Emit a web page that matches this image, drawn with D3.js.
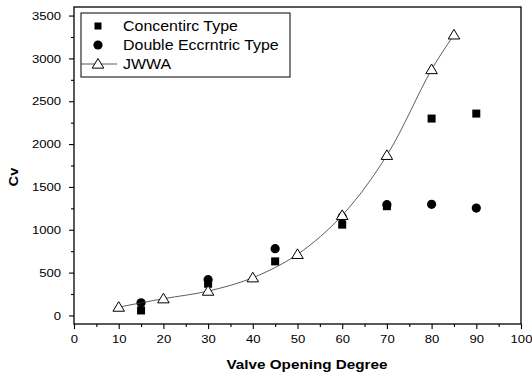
<!DOCTYPE html>
<html>
<head>
<meta charset="utf-8">
<script src="https://cdn.jsdelivr.net/npm/d3@7"></script>
<style>
  html, body { margin: 0; padding: 0; background: #fff; }
  svg { display: block; }
  text { font-family: Arial, "Liberation Sans", sans-serif; fill: #000; }
</style>
</head>
<body>
<svg id="chart" width="532" height="376"></svg>
<script>
// ---- data ----
const jwwaX = [10, 20, 30, 40, 50, 60, 70, 80, 85];
const jwwaY = [97, 195, 284, 440, 713, 1168, 1869, 2870, 3275];
const concX = [15, 30, 45, 60, 70, 80, 90];
const concY = [58, 370, 631, 1060, 1275, 2298, 2356];
const eccX = [15, 30, 45, 60, 70, 80, 90];
const eccY = [148, 417, 779, 1150, 1293, 1297, 1253];
const xTicks = [0, 10, 20, 30, 40, 50, 60, 70, 80, 90, 100];
const xMinor = [5, 15, 25, 35, 45, 55, 65, 75, 85, 95];
const yTicks = [0, 500, 1000, 1500, 2000, 2500, 3000, 3500];
const yMinor = [250, 750, 1250, 1750, 2250, 2750, 3250];
const legendLabels = ["Concentirc Type", "Double Eccrntric Type", "JWWA"];
const xTitle = "Valve Opening Degree";
const yTitle = "Cv";

const svg = d3.select("#chart");
const L = 74, R = 521, T = 7, B = 324;
const x = d3.scaleLinear().domain([0, 100]).range([L, R]);
const y = d3.scaleLinear().domain([-100, 3600]).range([B, T]);
const SX = 1.14;

// frame
svg.append("rect").attr("x", L).attr("y", T).attr("width", R - L).attr("height", B - T)
  .attr("fill", "none").attr("stroke", "#000").attr("stroke-width", 1.3);

// axes
function styleAxis(g) {
  g.select(".domain").remove();
  g.selectAll("line").attr("stroke", "#000").attr("stroke-width", 1.1);
}
const gx = svg.append("g").attr("transform", `translate(0,${B})`)
  .call(d3.axisBottom(x).tickValues(xTicks).tickSize(5).tickPadding(6).tickFormat(d3.format("d")));
styleAxis(gx);
gx.selectAll("text").attr("font-size", 11.5).attr("transform", `scale(${SX},1)`);
const gxm = svg.append("g").attr("transform", `translate(0,${B})`)
  .call(d3.axisBottom(x).tickValues(xMinor).tickSize(3).tickFormat(""));
styleAxis(gxm);

const gy = svg.append("g").attr("transform", `translate(${L},0)`)
  .call(d3.axisLeft(y).tickValues(yTicks).tickSize(5).tickPadding(6.3).tickFormat(d3.format("d")));
styleAxis(gy);
gy.selectAll("text").attr("font-size", 11.5).attr("transform", `scale(${SX},1)`);
const gym = svg.append("g").attr("transform", `translate(${L},0)`)
  .call(d3.axisLeft(y).tickValues(yMinor).tickSize(3).tickFormat(""));
styleAxis(gym);

// titles
svg.append("text").attr("font-size", 13.5).attr("font-weight", "bold")
  .attr("text-anchor", "middle")
  .attr("transform", `translate(${(226 + 388) / 2},369) scale(1.13,1)`)
  .text(xTitle);
svg.append("text").attr("font-size", 13).attr("font-weight", "bold")
  .attr("text-anchor", "middle")
  .attr("transform", `translate(17.5,177) rotate(-90) scale(1.13,1)`)
  .text(yTitle);

// symbols
function tri(g, cx, cy) {
  const s = 5.5;
  g.append("path")
    .attr("d", `M${cx},${cy - s}L${cx + s * 1.05},${cy + s * 0.75}L${cx - s * 1.05},${cy + s * 0.75}Z`)
    .attr("fill", "#fff").attr("stroke", "#000").attr("stroke-width", 1);
}
const pts = svg.append("g");
concX.forEach((d, i) => {
  pts.append("rect").attr("x", x(d) - 4).attr("y", y(concY[i]) - 4)
    .attr("width", 8).attr("height", 8).attr("fill", "#000");
});
eccX.forEach((d, i) => {
  pts.append("circle").attr("cx", x(d)).attr("cy", y(eccY[i])).attr("r", 4.6).attr("fill", "#000");
});

const line = d3.line().x((d, i) => x(d)).y((d, i) => y(jwwaY[i])).curve(d3.curveCatmullRom.alpha(0.5));
svg.append("path").datum(jwwaX).attr("d", line)
  .attr("fill", "none").attr("stroke", "#333").attr("stroke-width", 0.8);
const tg = svg.append("g");
jwwaX.forEach((d, i) => tri(tg, x(d), y(jwwaY[i])));

// legend
const lg = svg.append("g");
lg.append("rect").attr("x", 81).attr("y", 13).attr("width", 209).attr("height", 64)
  .attr("fill", "#fff").attr("stroke", "#000").attr("stroke-width", 1);
lg.append("rect").attr("x", 94.5).attr("y", 22.5).attr("width", 7).attr("height", 7).attr("fill", "#000");
lg.append("circle").attr("cx", 98).attr("cy", 45).attr("r", 4.6).attr("fill", "#000");
lg.append("line").attr("x1", 81).attr("x2", 117).attr("y1", 64).attr("y2", 64)
  .attr("stroke", "#333").attr("stroke-width", 0.8);
tri(lg, 98, 64);
const rowsY = [30.7, 50, 69.3];
legendLabels.forEach((t, i) => {
  lg.append("text").attr("font-size", 14)
    .attr("transform", `translate(123,${rowsY[i]}) scale(${SX},1)`)
    .text(t);
});
</script>
</body>
</html>
